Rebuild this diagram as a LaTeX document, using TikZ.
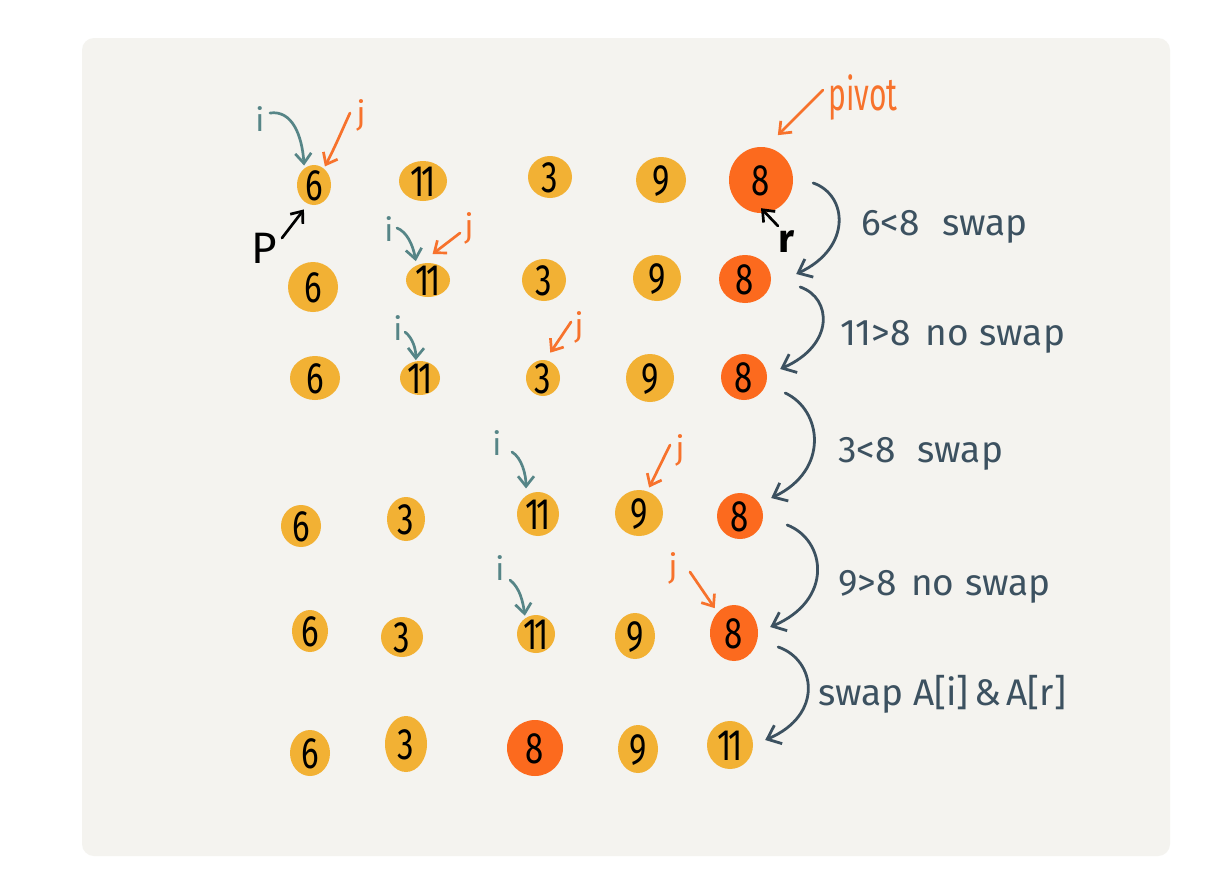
\documentclass[tikz,border=0pt]{standalone}
\usepackage{fontspec}
\setmainfont{Fira Sans}
\usetikzlibrary{arrows.meta,shapes.geometric}
\definecolor{bgc}{HTML}{F4F3EF}
\definecolor{ballc}{HTML}{F2B134}
\definecolor{pivc}{HTML}{FC6A1E}
\definecolor{ic}{HTML}{568587}
\definecolor{jc}{HTML}{F7722C}
\definecolor{sc}{HTML}{3C5160}
\newcommand\dg[1]{\makebox[0pt]{\raisebox{-0.345em}[0pt][0pt]{\scalebox{0.75}[1]{#1}}}}
\newcommand\elv{1\kern-0.12em1}
\begin{document}
\begin{tikzpicture}[x=1pt,y=-1pt,
  nb/.style={ellipse, fill=ballc, inner sep=0pt, font=\fontsize{44}{44}\selectfont},
  np/.style={ellipse, fill=pivc, inner sep=0pt, font=\fontsize{44}{44}\selectfont},
  sz/.style 2 args={minimum width=2*#1, minimum height=2*#2},
  itext/.style={text=ic, inner sep=1pt, font=\fontsize{32}{32}\selectfont},
  jtext/.style={text=jc, inner sep=1pt, font=\fontsize{32}{32}\selectfont},
  ktext/.style={text=black, inner sep=1pt, font=\fontsize{44}{44}\selectfont},
  ptr/.style={line width=2.7pt, line cap=round, line join=round, -{Straight Barb[length=10pt,width=16pt]}},
  iptr/.style={ptr, draw=ic},
  jptr/.style={ptr, draw=jc},
  kptr/.style={ptr, draw=black},
  sarr/.style={line width=2.8pt, draw=sc, line cap=round, line join=round, -{Straight Barb[length=12pt,width=20pt]}},
  lab/.style={text=sc, inner sep=0pt, anchor=base west, font=\fontsize{37}{37}\selectfont}]
% background
\fill[white] (0,0) rectangle (1232,876);
\fill[bgc, rounded corners=12pt] (82,38) rectangle (1170,856);

% row 1
\node[nb,sz={17}{20}] (a11) at (314,185) {\dg{6}};
\node[nb,sz={24}{20}] (a12) at (423,181) {\dg{\elv}};
\node[nb,sz={22}{21}] (a13) at (550,177) {\dg{3}};
\node[nb,sz={25}{23}] (a14) at (661,180) {\dg{9}};
\node[np,sz={32}{33}] (a15) at (761,180) {\dg{8}};
% row 2
\node[nb,sz={25}{25}] (a21) at (313,287) {\dg{6}};
\node[nb,sz={22}{17}] (a22) at (428,280) {\dg{\elv}};
\node[nb,sz={22}{21}] (a23) at (544,280) {\dg{3}};
\node[nb,sz={24}{23}] (a24) at (657,278) {\dg{9}};
\node[np,sz={26}{24}] (a25) at (745,279) {\dg{8}};
% row 3
\node[nb,sz={25}{22}] (a31) at (315,378) {\dg{6}};
\node[nb,sz={20}{17}] (a32) at (420,378) {\dg{\elv}};
\node[nb,sz={17}{18}] (a33) at (543,378) {\dg{3}};
\node[nb,sz={24}{24}] (a34) at (650,378) {\dg{9}};
\node[np,sz={23}{23}] (a35) at (744,377) {\dg{8}};
% row 4
\node[nb,sz={20}{21}] (a41) at (301,526) {\dg{6}};
\node[nb,sz={19}{22}] (a42) at (406,519) {\dg{3}};
\node[nb,sz={21}{22}] (a43) at (538,514) {\dg{\elv}};
\node[nb,sz={24}{23}] (a44) at (639,513) {\dg{9}};
\node[np,sz={23}{23}] (a45) at (740,516) {\dg{8}};
% row 5
\node[nb,sz={18}{21}] (a51) at (310,631) {\dg{6}};
\node[nb,sz={21}{20}] (a52) at (402,637) {\dg{3}};
\node[nb,sz={19}{19}] (a53) at (536,634) {\dg{\elv}};
\node[nb,sz={20}{23}] (a54) at (635,636) {\dg{9}};
\node[np,sz={24}{28}] (a55) at (734,633) {\dg{8}};
% row 6
\node[nb,sz={20}{23}] (a61) at (310,753) {\dg{6}};
\node[nb,sz={21}{28}] (a62) at (406,744) {\dg{3}};
\node[np,sz={28}{28}] (a63) at (535,748) {\dg{8}};
\node[nb,sz={20}{24}] (a64) at (638,749) {\dg{9}};
\node[nb,sz={23}{24}] (a65) at (730,745) {\dg{\elv}};

% pointer labels
\node[itext] (i1) at (260,119) {i};
\node[jtext] (j1) at (361,115) {j};
\node[ktext] (p1) at (264,248) {P};
\node[jtext, font=\fontsize{40}{40}\selectfont] (pv) at (863,97) {\scalebox{0.75}[1.15]{pivot}};
\node[ktext, font=\fontsize{40}{40}\bfseries] (r1) at (787,242) {r};
\node[itext] (i2) at (389,229) {i};
\node[jtext] (j2) at (469,228) {j};
\node[itext] (i3) at (398,328) {i};
\node[jtext] (j3) at (579,327) {j};
\node[itext] (i4) at (497,443) {i};
\node[jtext] (j4) at (680,450) {j};
\node[itext] (i5) at (500,568) {i};
\node[jtext] (j5) at (673,568) {j};

% pointer arrows
\draw[iptr] ([shift={(10,-6)}]i1.center) .. controls (292,110) and (302,135) .. ([shift={(0,-3)}]a11.121);
\draw[jptr] ([shift={(-11,-2)}]j1.center) .. controls (343,128) and (336,145) .. ([shift={(0,-3)}]a11.55);
\draw[kptr] ([shift={(18,-10)}]p1.center) -- ([shift={(-3,6)}]a11.-111);
\draw[jptr] ([shift={(-40,-7)}]pv.center) -- ([shift={(5,-14)}]a15.69);
\draw[kptr] ([shift={(-9,-16)}]r1.center) -- ([shift={(0,-5)}]a15.south);
\draw[iptr] ([shift={(8,-1)}]i2.center) .. controls (407,232) and (413,245) .. ([shift={(-1,-4)}]a22.127);
\draw[jptr] ([shift={(-9,5)}]j2.center) -- ([shift={(1,-9)}]a22.78);
\draw[iptr] ([shift={(7,4)}]i3.center) .. controls (413,338) and (416,350) .. ([shift={(0,-1)}]a32.104);
\draw[jptr] ([shift={(-8,-5)}]j3.center) -- ([shift={(2,-8)}]a33.73);
\draw[iptr] ([shift={(15,9)}]i4.center) .. controls (522,458) and (526,475) .. ([shift={(-2,-6)}]a43.117);
\draw[jptr] ([shift={(-10,-5)}]j4.center) -- ([shift={(1,-4)}]a44.67);
\draw[iptr] ([shift={(10,12)}]i5.center) .. controls (520,588) and (523,602) .. ([shift={(-1,-2)}]a53.122);
\draw[jptr] ([shift={(17,4)}]j5.center) -- ([shift={(-3,-4)}]a55.128);

% step arrows
\draw[sarr] ([shift={(20,3)}]a15.east) .. controls (848,195) and (852,248) .. ([shift={(25,-5)}]a25.east);
\draw[sarr] ([shift={(29,8)}]a25.east) .. controls (832,298) and (835,345) .. ([shift={(13,-8)}]a35.east);
\draw[sarr] ([shift={(18,16)}]a35.east) .. controls (822,410) and (830,470) .. ([shift={(8,-18)}]a45.east);
\draw[sarr] ([shift={(24,9)}]a45.east) .. controls (826,540) and (834,600) .. ([shift={(12,-6)}]a55.east);
\draw[sarr] ([shift={(20,14)}]a55.east) .. controls (816,660) and (824,715) .. ([shift={(12,-5)}]a65.east);

% step labels
\node[lab] (l1) at (861,235) {6<8\hspace{0.6em}swap};
\node[lab] (l2) at (840,345) {11>8\hspace{0.4em}no\hspace{0.3em}swap};
\node[lab] (l3) at (838,462) {3<8\hspace{0.6em}swap};
\node[lab] (l4) at (838,595) {9>8\hspace{0.4em}no\hspace{0.3em}swap};
\node[lab] (l5) at (818,705) {swap A[i]\hspace{0.15em}\&\hspace{0.15em}A[r]};
\end{tikzpicture}
\end{document}
